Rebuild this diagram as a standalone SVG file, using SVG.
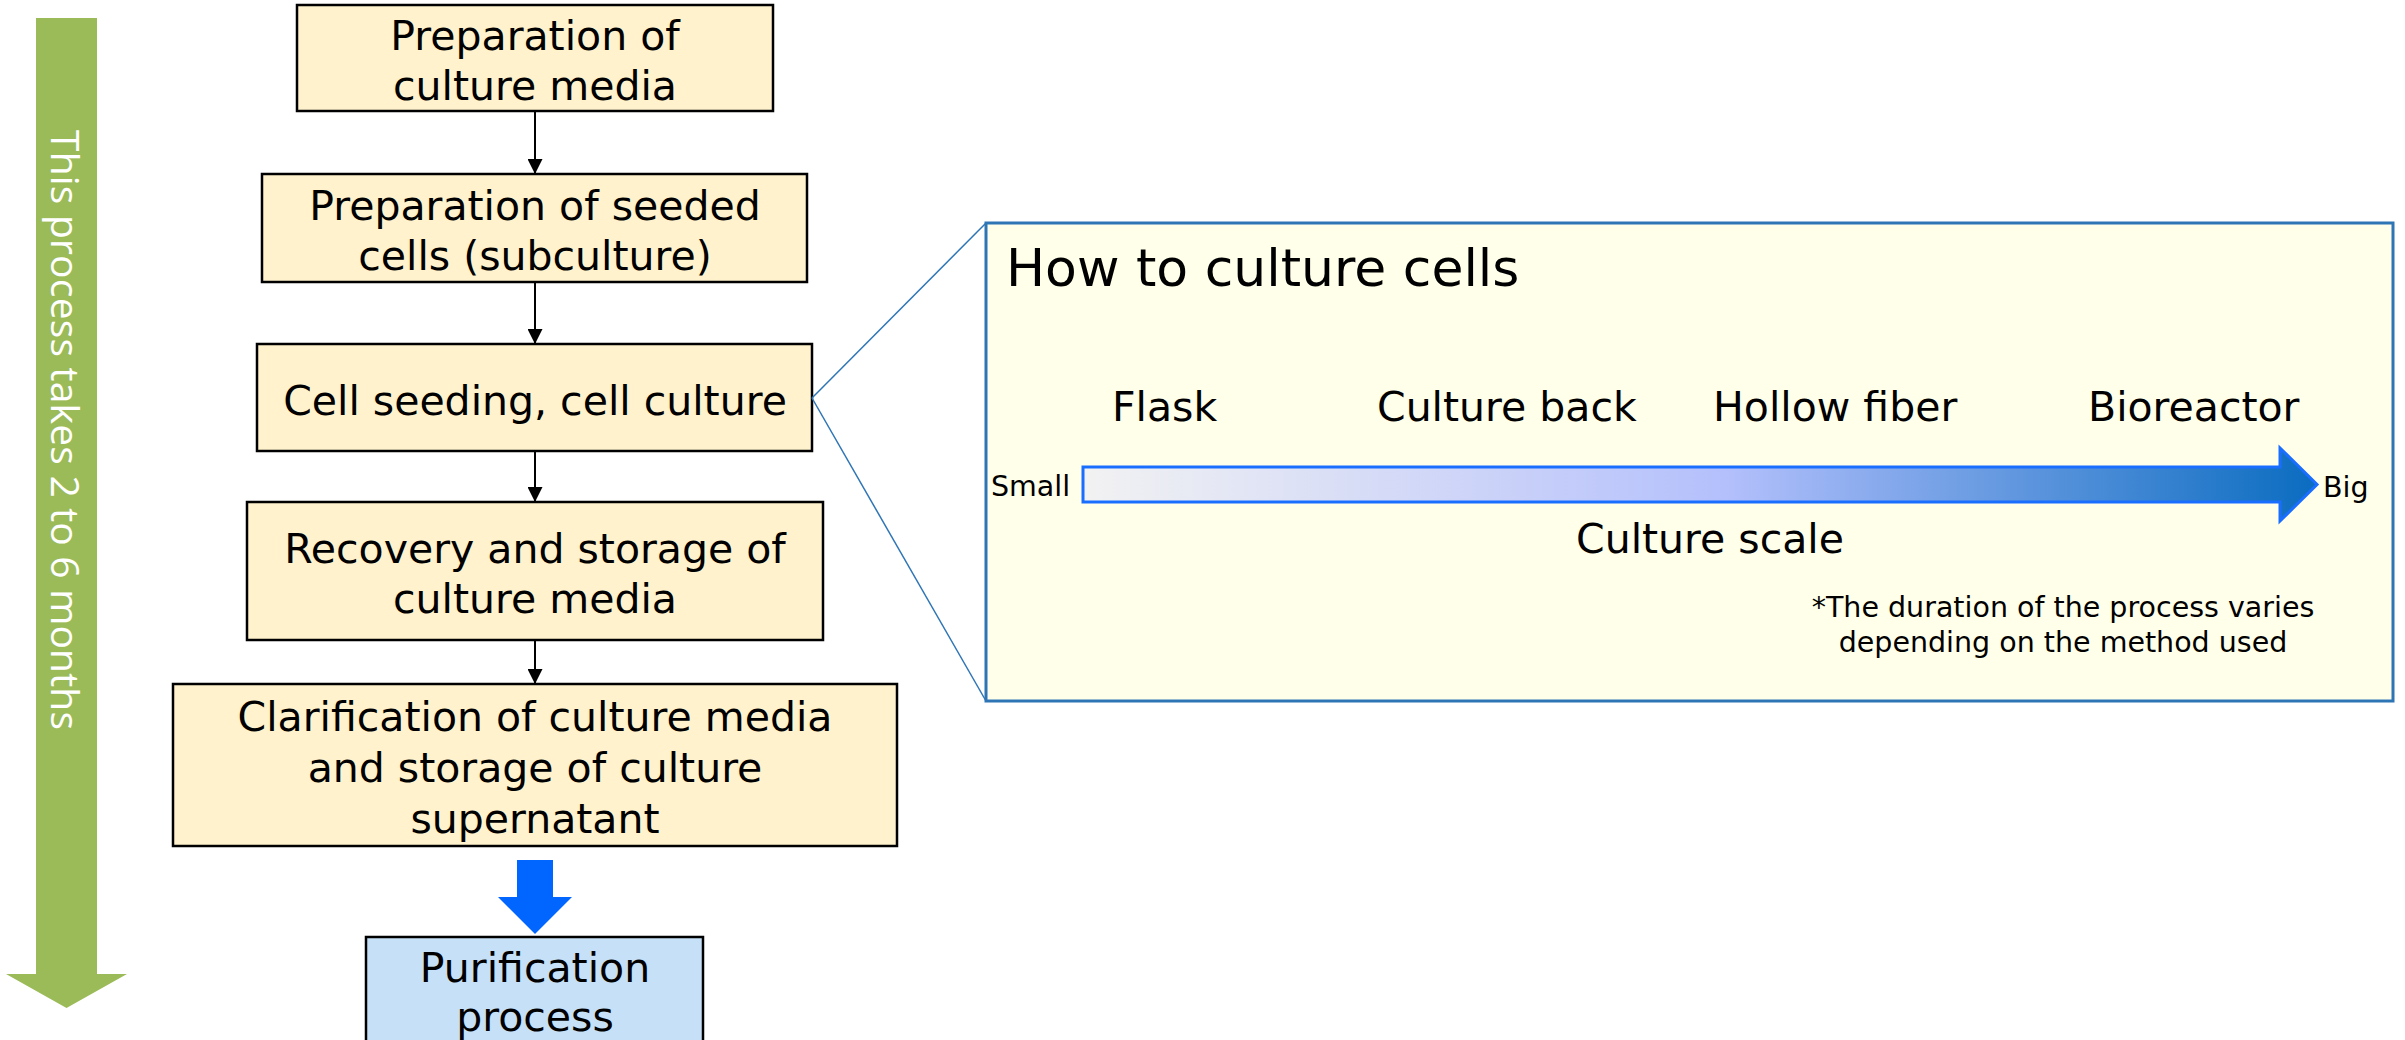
<svg xmlns="http://www.w3.org/2000/svg" width="2405" height="1040" viewBox="0 0 2405 1040">
  <style>
    .step { fill: #FFF2CC; stroke: #000000; stroke-width: 2.5; }
    .final { fill: #C5E0F7; stroke: #000000; stroke-width: 2.5; }
    .label { font-family: "DejaVu Sans", Verdana, sans-serif; font-size: 41px; fill: #000000; text-anchor: middle; }
    .flow { stroke: #000000; stroke-width: 2; fill: none; }
    .zoomline { stroke: #2E75B6; stroke-width: 1.5; fill: none; }
    .panel { fill: #FFFFEA; stroke: #2E75B6; stroke-width: 3; }
    .ptext { font-family: "DejaVu Sans", Verdana, sans-serif; fill: #000000; }
  </style>
  <defs>
    <marker id="arrowhead" markerUnits="userSpaceOnUse" markerWidth="16" markerHeight="15" refX="15" refY="7.5" orient="auto">
      <path d="M0,0 L15,7.5 L0,15 Z" fill="#000000"/>
    </marker>
    <linearGradient id="scaleGrad" x1="1083" y1="0" x2="2317" y2="0" gradientUnits="userSpaceOnUse">
      <stop offset="0" stop-color="#F2F2F2"/>
      <stop offset="0.52" stop-color="#B4C0FC"/>
      <stop offset="1" stop-color="#0A6CC0"/>
    </linearGradient>
  </defs>

  <!-- Timeline arrow on the left -->
  <g id="timeline">
    <polygon points="36,18 97,18 97,974 127,974 66.5,1008 6,974 36,974" fill="#9BBB59"/>
    <text transform="translate(51,130) rotate(90)" font-family="'Open Sans', 'DejaVu Sans', sans-serif" font-size="39" fill="#FFFFFF" textLength="600" lengthAdjust="spacing">This process takes 2 to 6 months</text>
  </g>

  <!-- Process steps -->
  <g id="step-media">
    <rect class="step" x="297" y="5" width="476" height="106"/>
    <text class="label" x="535" y="50">Preparation of</text>
    <text class="label" x="535" y="100">culture media</text>
  </g>
  <g id="step-seeded">
    <rect class="step" x="262" y="174" width="545" height="108"/>
    <text class="label" x="535" y="220">Preparation of seeded</text>
    <text class="label" x="535" y="270">cells (subculture)</text>
  </g>
  <g id="step-culture">
    <rect class="step" x="257" y="344" width="555" height="107"/>
    <text class="label" x="535" y="415">Cell seeding, cell culture</text>
  </g>
  <g id="step-recovery">
    <rect class="step" x="247" y="502" width="576" height="138"/>
    <text class="label" x="535" y="563">Recovery and storage of</text>
    <text class="label" x="535" y="613">culture media</text>
  </g>
  <g id="step-clarification">
    <rect class="step" x="173" y="684" width="724" height="162"/>
    <text class="label" x="535" y="731">Clarification of culture media</text>
    <text class="label" x="535" y="782">and storage of culture</text>
    <text class="label" x="535" y="833">supernatant</text>
  </g>
  <g id="step-purification">
    <rect class="final" x="366" y="937" width="337" height="110"/>
    <text class="label" x="535" y="982">Purification</text>
    <text class="label" x="535" y="1031">process</text>
  </g>

  <!-- Culture method panel -->
  <g id="culture-panel">
    <rect class="panel" x="986" y="223" width="1407" height="478"/>
    <text class="ptext" x="1006" y="286" font-size="52">How to culture cells</text>
    <text class="ptext" x="1112" y="421" font-size="41">Flask</text>
    <text class="ptext" x="1377" y="421" font-size="41">Culture back</text>
    <text class="ptext" x="1713" y="421" font-size="41">Hollow fiber</text>
    <text class="ptext" x="2088" y="421" font-size="41">Bioreactor</text>
    <polygon points="1083,467 2280,467 2280,448 2317,484.5 2280,521 2280,502 1083,502" fill="url(#scaleGrad)" stroke="#1A6EFF" stroke-width="3" stroke-linejoin="miter"/>
    <text class="ptext" x="991" y="496" font-size="28.5">Small</text>
    <text class="ptext" x="2323" y="497" font-size="28.5">Big</text>
    <text class="ptext" x="1710" y="553" font-size="41" text-anchor="middle">Culture scale</text>
    <text class="ptext" x="2063" y="617" font-size="28.5" text-anchor="middle">*The duration of the process varies</text>
    <text class="ptext" x="2063" y="652" font-size="28.5" text-anchor="middle">depending on the method used</text>
  </g>

  <!-- Connectors -->
  <g id="connectors">
    <line class="flow" x1="535" y1="111" x2="535" y2="174" marker-end="url(#arrowhead)"/>
    <line class="flow" x1="535" y1="282" x2="535" y2="344" marker-end="url(#arrowhead)"/>
    <line class="flow" x1="535" y1="451" x2="535" y2="502" marker-end="url(#arrowhead)"/>
    <line class="flow" x1="535" y1="640" x2="535" y2="684" marker-end="url(#arrowhead)"/>
    <polygon points="517,860 553,860 553,897 572,897 535,934 498,897 517,897" fill="#0066FF"/>
    <line class="zoomline" x1="812" y1="398" x2="986" y2="223"/>
    <line class="zoomline" x1="812" y1="398" x2="986" y2="701"/>
  </g>
</svg>
